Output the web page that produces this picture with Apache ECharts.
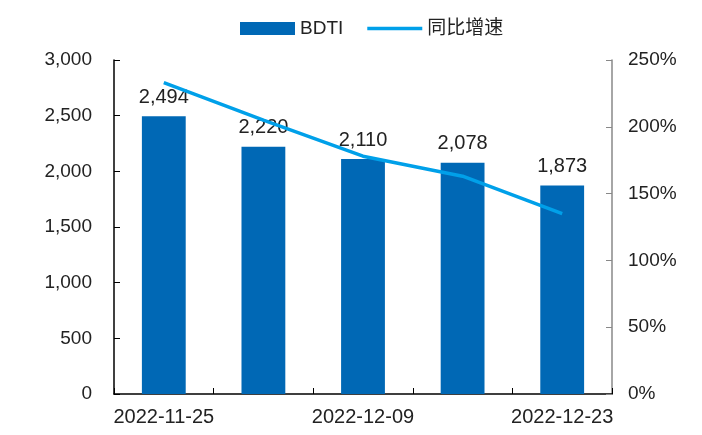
<!DOCTYPE html>
<html><head><meta charset="utf-8">
<script src="https://cdn.jsdelivr.net/npm/echarts@6/dist/echarts.min.js"></script>
<style>html,body{margin:0;padding:0;background:#fff}#c{width:702px;height:435px}</style>
</head><body><div id="c"></div>
<script>
var categories = ['2022-11-25','2022-12-02','2022-12-09','2022-12-16','2022-12-23'];
var bdti = [2494, 2220, 2110, 2078, 1873];
var yoy = [233, 205, 178, 163, 135];
var leftTicks = [0, 500, 1000, 1500, 2000, 2500, 3000];
var rightTicks = [0, 50, 100, 150, 200, 250];

var font = '"Liberation Sans", Arial, "Noto Sans CJK SC", sans-serif';
var chart = echarts.init(document.getElementById('c'));
chart.setOption({
  animation: false,
  textStyle: {fontFamily: font},
  legend: {
    top: 14, left: 235, itemGap: 24,
    textStyle: {fontSize: 19, color: '#222', fontFamily: font},
    data: [
      {name: 'BDTI', icon: 'rect', itemStyle: {color: '#0068B5'}},
      {name: '同比增速', icon: 'path://M0,0 L55,0 L55,3.5 L0,3.5 Z', itemStyle: {color: '#00A0E9'}}
    ],
    itemWidth: 55, itemHeight: 13
  },
  grid: {left: 114, right: 90, top: 60, bottom: 41},
  xAxis: {
    type: 'category', data: categories, boundaryGap: true,
    axisLine: {lineStyle: {color: '#000', width: 1.5}},
    axisTick: {show: true, inside: true, alignWithLabel: false, interval: 0, length: 6, lineStyle: {color: '#000'}},
    axisLabel: {interval: 1, fontSize: 20, color: '#222', margin: 13, fontFamily: font}
  },
  yAxis: [
    {type: 'value', min: leftTicks[0], max: leftTicks[leftTicks.length-1], interval: 500,
     axisLine: {show: true, lineStyle: {color: '#000', width: 1.5}},
     axisTick: {show: true, inside: true, length: 6, lineStyle: {color: '#000'}},
     splitLine: {show: false},
     axisLabel: {fontSize: 19, color: '#222', margin: 22, fontFamily: font,
       formatter: function(v){return v.toLocaleString('en-US');}}},
    {type: 'value', min: rightTicks[0], max: rightTicks[rightTicks.length-1], interval: 50,
     position: 'right',
     axisLine: {show: true, lineStyle: {color: '#888', width: 1.5}},
     axisTick: {show: true, inside: true, length: 6, lineStyle: {color: '#888'}},
     splitLine: {show: false},
     axisLabel: {fontSize: 19, color: '#222', margin: 16, fontFamily: font,
       formatter: function(v){return v + '%';}}}
  ],
  series: [
    {name: 'BDTI', type: 'bar', data: bdti, barWidth: '44%', yAxisIndex: 0,
     itemStyle: {color: '#0068B5'},
     label: {show: true, position: 'top', distance: 9, fontSize: 20, color: '#222', fontFamily: font,
       formatter: function(p){return p.value.toLocaleString('en-US');}}},
    {name: '同比增速', type: 'line', data: yoy, yAxisIndex: 1, symbol: 'none',
     lineStyle: {color: '#00A0E9', width: 3.5}, itemStyle: {color: '#00A0E9'}}
  ]
});
</script></body></html>
